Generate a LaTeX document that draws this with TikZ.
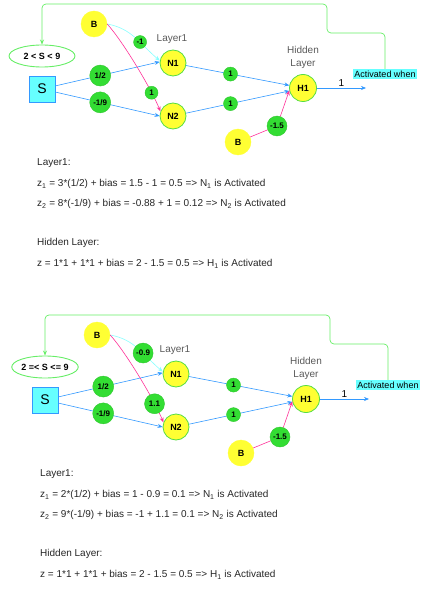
\documentclass[tikz,border=0pt]{standalone}
\usepackage{fontspec}
\setmainfont{Liberation Sans}
\usetikzlibrary{shapes.geometric,arrows.meta,positioning}

\definecolor{nyellow}{HTML}{FFFF33}
\definecolor{wgreen}{HTML}{33DD33}
\definecolor{ngreen}{HTML}{55DD44}
\definecolor{eblue}{HTML}{3399FF}
\definecolor{ecyan}{HTML}{88FFFF}
\definecolor{epink}{HTML}{FF3399}
\definecolor{lgreen}{HTML}{66EE66}
\definecolor{scyan}{HTML}{66FFFF}

\begin{document}
\begin{tikzpicture}[x=1pt, y=1pt,
  bias/.style={circle, fill=nyellow, draw=nyellow, minimum size=26pt, inner sep=0pt, font=\bfseries\fontsize{9}{9}\selectfont},
  neuron/.style={circle, fill=nyellow, draw=ngreen, line width=0.8pt, minimum size=26pt, inner sep=0pt, font=\bfseries\fontsize{9}{9}\selectfont},
  wt/.style={circle, fill=wgreen, draw=wgreen!90!black, line width=0.4pt, minimum size=13pt, inner sep=0.5pt, font=\bfseries\fontsize{8}{8}\selectfont},
  inbox/.style={draw=eblue, fill=scyan, line width=0.8pt, minimum size=26pt, inner sep=0pt, font=\fontsize{14}{14}\selectfont},
  cond/.style={ellipse, draw=lgreen, line width=0.9pt, fill=white, minimum width=66pt, minimum height=22pt, inner sep=0pt, font=\bfseries\fontsize{9}{9}\selectfont},
  lyr/.style={text=black!65, font=\fontsize{10}{13}\selectfont, align=center},
  actlbl/.style={fill=scyan, inner xsep=1pt, inner ysep=1.5pt, font=\fontsize{9}{9}\selectfont},
  arr/.style={-{Stealth[length=5pt, width=4pt]}, draw=eblue, line width=0.6pt},
  arrc/.style={arr, draw=ecyan},
  arrp/.style={arr, draw=epink},
  fb/.style={-{Stealth[length=5pt, width=4pt]}, draw=lgreen, line width=0.7pt, rounded corners=4pt},
  eq/.style={anchor=west, inner sep=0pt, text=black!85, font=\fontsize{10}{12}\selectfont}
]
\useasboundingbox (0,0) rectangle (442,-604);

% both networks
\foreach \p/\dx/\dy/\cnd/\wa/\wb/\ws in {t/0/0/{2 < S < 9}/-1/1/13pt, b/3/311/{2 =< S <= 9}/-0.9/1.1/20pt}{
\begin{scope}[shift={(\dx,-\dy)}]
% inputs
\node[bias] (B\p) at (94,-24) {B};
\node[cond] (C\p) at (42,-56) {\cnd};
\node[inbox] (S\p) at (42,-89) {S};
% layer 1
\node[neuron] (N1\p) at (173,-63) {N1};
\node[neuron] (N2\p) at (173,-116) {N2};
\node[lyr] (L1\p) at (172,-39) {Layer1};
% hidden layer
\node[neuron, minimum size=27pt] (H1\p) at (303,-88) {H1};
\node[lyr] (HL\p) at (303,-57) {Hidden\\Layer};
\node[bias] (BH\p) at (238,-142) {B};
\node[wt, minimum size=20pt] (WH\p) at (277,-126) {-1.5};
% output
\coordinate (O\p) at (366,-88);
\node[actlbl] (A\p) at (385,-74) {Activated when};

% weights S -> layer 1
\draw[arr] (S\p) -- node[wt, minimum size=21pt, pos=0.43] {1/2} (N1\p.175);
\draw[arr] (S\p) -- node[wt, minimum size=21pt, pos=0.43] {-1/9} (N2\p.180);
% bias -> layer 1
\draw[arrc] (B\p.east) to[out=-10, in=140] node[wt, minimum size=\ws, pos=0.6] {\wa} (N1\p.170);
\draw[arrp] (B\p.east) to[out=-48, in=112, looseness=0.6] node[wt, minimum size=\ws, pos=0.77] {\wb} (N2\p.160);
% layer 1 -> hidden layer
\draw[arr] (N1\p) -- node[wt, minimum size=14pt, pos=0.43] {1} (H1\p);
\draw[arr] (N2\p) -- node[wt, minimum size=14pt, pos=0.43] {1} (H1\p);
\draw[arrp] (BH\p) -- (WH\p) -- (H1\p.190);
% output and condition
\draw[arr] (H1\p) -- node[above, inner sep=1.5pt, font=\fontsize{10}{10}\selectfont] {1} (O\p);
\draw[fb] (A\p.north) -- ++(0,36) -| ++(-58,29) -| (C\p.north);
\end{scope}
}

% calculations, top
\node[eq] (t1) at (37,-163) {Layer1:};
\node[eq] (t2) at (37,-184) {z\textsubscript{1} = 3*(1/2) + bias = 1.5 - 1 = 0.5 => N\textsubscript{1} is Activated};
\node[eq] (t3) at (37,-204) {z\textsubscript{2} = 8*(-1/9) + bias = -0.88 + 1 = 0.12 => N\textsubscript{2} is Activated};
\node[eq] (t4) at (37,-243) {Hidden Layer:};
\node[eq] (t5) at (37,-264) {z = 1*1 + 1*1 + bias = 2 - 1.5 = 0.5 => H\textsubscript{1} is Activated};

% calculations, bottom
\node[eq] (b1) at (40,-474) {Layer1:};
\node[eq] (b2) at (40,-495) {z\textsubscript{1} = 2*(1/2) + bias = 1 - 0.9 = 0.1 => N\textsubscript{1} is Activated};
\node[eq] (b3) at (40,-515) {z\textsubscript{2} = 9*(-1/9) + bias = -1 + 1.1 = 0.1 => N\textsubscript{2} is Activated};
\node[eq] (b4) at (40,-554) {Hidden Layer:};
\node[eq] (b5) at (40,-575) {z = 1*1 + 1*1 + bias = 2 - 1.5 = 0.5 => H\textsubscript{1} is Activated};
\end{tikzpicture}
\end{document}
